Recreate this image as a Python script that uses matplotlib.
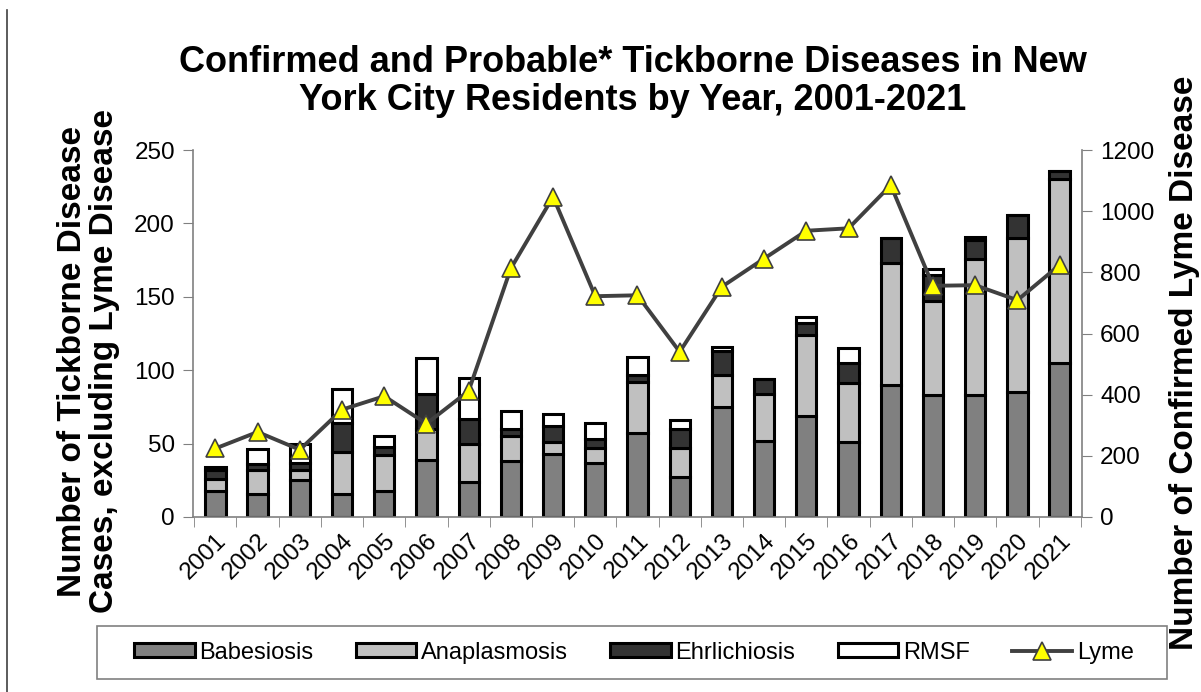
import numpy as np
import matplotlib.pyplot as plt
from matplotlib.patches import Rectangle
from matplotlib.ticker import MultipleLocator

plt.rcParams['font.family'] = ['Liberation Sans', 'DejaVu Sans']

years = [str(y) for y in range(2001, 2022)]
babesiosis   = [18, 16, 25, 16, 18, 39, 24, 38, 43, 37, 57, 27, 75, 52, 69, 51, 90, 83, 83, 85, 105]
anaplasmosis = [8, 16, 7, 28, 24, 21, 26, 17, 8, 10, 35, 20, 22, 32, 55, 40, 83, 64, 93, 105, 125]
ehrlichiosis = [6, 4, 5, 20, 6, 24, 17, 5, 11, 6, 5, 13, 16, 10, 8, 14, 17, 18, 13, 16, 6]
rmsf         = [2, 10, 13, 23, 7, 24, 28, 12, 8, 11, 12, 6, 3, 0, 4, 10, 0, 4, 2, 0, 0]
lyme = [224, 278, 220, 351, 395, 305, 412, 813, 1047, 722, 725, 540, 753, 845,
        936, 944, 1085, 756, 758, 709, 824]

fig = plt.figure(figsize=(12.01, 6.92), dpi=100)
ax = fig.add_axes([0.1607, 0.2529, 0.7402, 0.5303])

x = np.arange(len(years))
w = 0.48
bottom = np.zeros(len(years))
series = [(babesiosis, '#808080', 'Babesiosis'),
          (anaplasmosis, '#c0c0c0', 'Anaplasmosis'),
          (ehrlichiosis, '#333333', 'Ehrlichiosis'),
          (rmsf, '#ffffff', 'RMSF')]
handles = []
for vals, col, lab in series:
    b = ax.bar(x, vals, w, bottom=bottom, color=col, edgecolor='black', linewidth=2.2,
               label=lab, zorder=2)
    handles.append(b)
    bottom += np.array(vals)

ax.set_xlim(-0.53, 20.53)
ax.set_ylim(0, 250)
ax.yaxis.set_major_locator(MultipleLocator(50))
ax.set_xticks(x)
ax.set_xticklabels(years, rotation=45, ha='right', rotation_mode='anchor', fontsize=17.5)
ax.set_xticks(np.arange(-0.5, 21, 1), minor=True)
ax.tick_params(axis='x', which='major', length=0, pad=9)
ax.tick_params(axis='x', which='minor', length=7, color='#808080', direction='out')
ax.tick_params(axis='y', labelsize=17.5, length=7, color='#808080', pad=6)
for s in ['top', 'right']:
    ax.spines[s].set_visible(False)
for s in ['left', 'bottom']:
    ax.spines[s].set_color('#808080')
    ax.spines[s].set_linewidth(1.2)

ax2 = ax.twinx()
ln, = ax2.plot(x, lyme, color='#404040', lw=2.8, marker='^', markersize=13,
               markerfacecolor='#ffff00', markeredgecolor='#404040', markeredgewidth=1.2,
               label='Lyme', zorder=3)
ax2.set_ylim(0, 1200)
ax2.yaxis.set_major_locator(MultipleLocator(200))
ax2.tick_params(axis='y', labelsize=17.5, length=7, color='#808080', pad=6)
for s in ['top', 'left', 'bottom']:
    ax2.spines[s].set_visible(False)
ax2.spines['right'].set_color('#808080')
ax2.spines['right'].set_linewidth(1.2)

fig.text(0.527, 0.882, 'Confirmed and Probable* Tickborne Diseases in New\nYork City Residents by Year, 2001-2021',
         ha='center', va='center', fontsize=26, fontweight='bold', linespacing=1.1)
fig.text(0.074, 0.478, 'Number of Tickborne Disease\nCases, excluding Lyme Disease',
         ha='center', va='center', rotation=90, fontsize=24, fontweight='bold', linespacing=1.05)
fig.text(0.986, 0.475, 'Number of Confirmed Lyme Disease',
         ha='center', va='center', rotation=90, fontsize=24, fontweight='bold')

fig.legend(handles + [ln], ['Babesiosis', 'Anaplasmosis', 'Ehrlichiosis', 'RMSF', 'Lyme'],
           loc='center', bbox_to_anchor=(0.528, 0.057), ncol=5, fontsize=17,
           frameon=False, handlelength=2.55, handleheight=0.55, handletextpad=0.2,
           columnspacing=1.8)
fig.patches.append(Rectangle((0.0808, 0.0188), 0.891, 0.0766, transform=fig.transFigure,
                             fill=False, edgecolor='#808080', lw=1.2))

fig.add_artist(plt.Line2D([0.006, 0.006], [0.0, 0.985], color='#404040', lw=1.2))

fig.savefig('out.png', dpi=100)
